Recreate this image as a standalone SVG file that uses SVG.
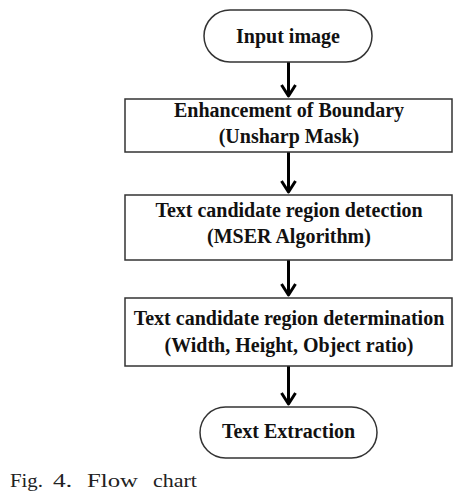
<svg xmlns="http://www.w3.org/2000/svg" width="472" height="503" viewBox="0 0 472 503">
<defs>
<style>
.node{fill:#fff;stroke:#333;stroke-width:1.5}
.lbl{font-family:"Liberation Serif","Times New Roman",serif;font-weight:bold;font-size:20px;fill:#111;text-anchor:middle}
.cap{font-family:"Liberation Serif","Times New Roman",serif;font-size:19px;fill:#222}
.conn{stroke:#000;stroke-width:3;fill:none}
</style>
<marker id="ah" markerUnits="userSpaceOnUse" viewBox="-14 -9 16 18" refX="0" refY="0" markerWidth="16" markerHeight="18" orient="auto">
<polyline points="-11,-7 0,0 -11,7" fill="none" stroke="#000" stroke-width="3" stroke-linejoin="round"/>
</marker>
</defs>
<rect width="472" height="503" fill="#fff"/>
<g id="connectors">
<line class="conn" x1="288.5" y1="62" x2="288.5" y2="96" marker-end="url(#ah)"/>
<line class="conn" x1="288.5" y1="152" x2="288.5" y2="192" marker-end="url(#ah)"/>
<line class="conn" x1="288.5" y1="260" x2="288.5" y2="295" marker-end="url(#ah)"/>
<line class="conn" x1="288.5" y1="366" x2="288.5" y2="404" marker-end="url(#ah)"/>
</g>
<g id="input-image">
<rect class="node" x="204" y="10" width="168" height="52" rx="26" ry="26"/>
<text class="lbl" x="288" y="43">Input image</text>
</g>
<g id="enhancement">
<rect class="node" x="125" y="99" width="327" height="53"/>
<text class="lbl" x="289" y="117">Enhancement of Boundary</text>
<text class="lbl" x="289" y="143">(Unsharp Mask)</text>
</g>
<g id="detection">
<rect class="node" x="125" y="195" width="327" height="65"/>
<text class="lbl" x="289" y="217">Text candidate region detection</text>
<text class="lbl" x="289" y="243">(MSER Algorithm)</text>
</g>
<g id="determination">
<rect class="node" x="125" y="298" width="327" height="68"/>
<text class="lbl" x="289" y="325">Text candidate region determination</text>
<text class="lbl" x="289" y="352">(Width, Height, Object ratio)</text>
</g>
<g id="text-extraction">
<rect class="node" x="200" y="407" width="177" height="51" rx="25.5" ry="25.5"/>
<text class="lbl" x="288.5" y="438">Text Extraction</text>
</g>
<text class="cap" y="487"><tspan x="10" textLength="33" lengthAdjust="spacingAndGlyphs">Fig.</tspan><tspan x="53" textLength="19" lengthAdjust="spacingAndGlyphs">4.</tspan><tspan x="87" textLength="51" lengthAdjust="spacingAndGlyphs">Flow</tspan><tspan x="153" textLength="44" lengthAdjust="spacingAndGlyphs">chart</tspan></text>
</svg>
